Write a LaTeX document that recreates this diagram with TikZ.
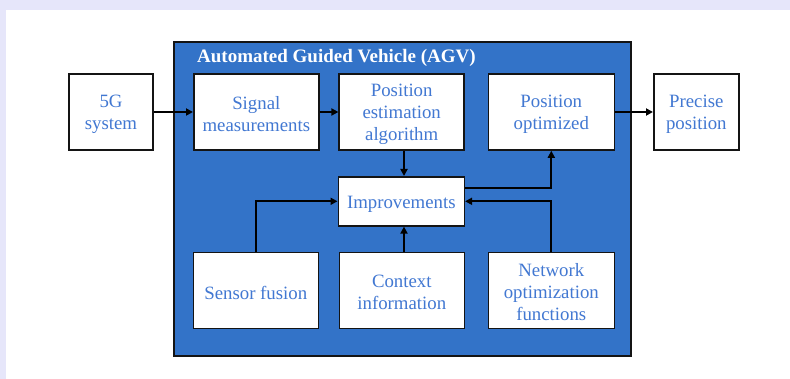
\documentclass[tikz,border=0pt]{standalone}
\usepackage{fontspec}
\setmainfont{Liberation Serif}
\usetikzlibrary{arrows.meta,calc}
\definecolor{lav}{RGB}{230,230,250}
\definecolor{agvblue}{RGB}{51,115,200}
\definecolor{txtblue}{RGB}{66,120,210}
\definecolor{edge}{RGB}{20,20,20}
\tikzset{
  blk/.style={draw=edge,line width=1.6pt,fill=white,inner sep=0pt},
  lbl/.style={text=txtblue,align=center,inner sep=0pt,yshift=-2pt,
    font=\fontsize{18.8}{22}\selectfont},
  conn/.style={draw=black,line width=2pt,-{Triangle[length=7pt,width=7pt]}},
}
\begin{document}
\begin{tikzpicture}[x=1pt,y=-1pt]
\useasboundingbox (0,0) rectangle (790,379);
\fill[lav] (0,0) rectangle (790,379);
\fill[white] (6,10) rectangle (790,379);
\draw[edge,line width=1.8pt,fill=agvblue] (174,42) rectangle (631,356);
\node[anchor=base west,text=white,inner sep=0pt,font=\fontsize{19}{22}\selectfont\bfseries] (title) at (197,63) {Automated Guided Vehicle (AGV)};
\node[blk,minimum width=84pt,minimum height=76pt,label={[lbl]center:5G\\system}] (g5) at (111,112) {};
\node[blk,minimum width=125pt,minimum height=76pt,label={[lbl]center:Signal\\measurements}] (sig) at (256.3,112) {};
\node[blk,minimum width=125pt,minimum height=76pt,label={[lbl]center:Position\\estimation\\algorithm}] (pea) at (401.7,112) {};
\node[blk,minimum width=126pt,minimum height=76pt,label={[lbl]center:Position\\optimized}] (po) at (551.3,112) {};
\node[blk,minimum width=85pt,minimum height=76pt,label={[lbl]center:Precise\\position}] (pp) at (696.3,112) {};
\node[blk,minimum width=126pt,minimum height=49pt,label={[lbl,yshift=-1pt]center:Improvements}] (imp) at (401.3,201.3) {};
\node[blk,minimum width=125pt,minimum height=76pt,label={[lbl]center:Sensor fusion}] (sf) at (255.8,290.5) {};
\node[blk,minimum width=125pt,minimum height=76pt,label={[lbl]center:Context\\information}] (ci) at (401.8,290.5) {};
\node[blk,minimum width=126pt,minimum height=76pt,label={[lbl]center:Network\\optimization\\functions}] (nof) at (551.3,290.5) {};
\coordinate (vx) at (404,0);
\draw[conn] (g5) -- (sig);
\draw[conn] (sig) -- (pea);
\draw[conn] (po) -- (pp);
\draw[conn] (vx |- pea.south) -- (vx |- imp.north);
\draw[conn] ([yshift=13.5pt]imp.east) -| (po.south);
\draw[conn] (sf.north) |- (imp.west);
\draw[conn] (nof.north) |- (imp.east);
\draw[conn] (vx |- ci.north) -- (vx |- imp.south);
\end{tikzpicture}
\end{document}
